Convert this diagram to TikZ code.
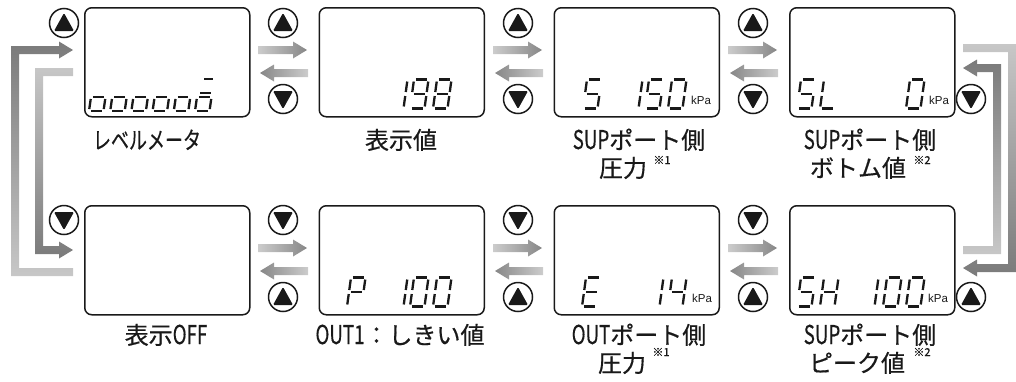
\documentclass[tikz,border=0pt]{standalone}
\usepackage{fontspec}
\usepackage{graphicx}
\setmainfont{Noto Sans CJK JP}
\newfontfamily\lblfont[FakeBold=0.5]{Noto Sans CJK JP}
\newfontfamily\kpafont{Liberation Sans}
\usetikzlibrary{calc}
\definecolor{arrL}{gray}{0.80}
\definecolor{arrD}{gray}{0.53}
\definecolor{loopL}{gray}{0.78}
\definecolor{loopD}{gray}{0.48}
\definecolor{ink}{gray}{0.1}
\newcommand\lat[1]{\scalebox{0.78}[1.08]{#1}}
% seven segment pieces (u,v in cell units)
\newcommand\segXa{\draw[segline] (0.13,1) -- (0.87,1);}
\newcommand\segXb{\draw[segline] (1,0.93) -- (1,0.57);}
\newcommand\segXc{\draw[segline] (1,0.43) -- (1,0.07);}
\newcommand\segXd{\draw[segline] (0.13,0) -- (0.87,0);}
\newcommand\segXe{\draw[segline] (0,0.07) -- (0,0.43);}
\newcommand\segXf{\draw[segline] (0,0.57) -- (0,0.93);}
\newcommand\segXg{\draw[segline] (0.13,0.5) -- (0.87,0.5);}
\newcommand\sevseg[4]{\begin{scope}[shift={(#1,#2)},x={(14.5pt,0pt)},y={(4pt,#3pt)}]\foreach \s in {#4}{\csname segX\s\endcsname}\end{scope}}
\newcommand\rarr[2]{\shade[left color=arrL, right color=arrD] let \p1=(#1), \p2=(#2) in (\x1,\y1+4pt) -- (\x2-14pt,\y1+4pt) -- (\x2-14pt,\y1+8.5pt) -- (\x2,\y1) -- (\x2-14pt,\y1-8.5pt) -- (\x2-14pt,\y1-4pt) -- (\x1,\y1-4pt) -- cycle;}
\newcommand\larr[2]{\shade[left color=arrD, right color=arrL] let \p1=(#1), \p2=(#2) in (\x1,\y1+4pt) -- (\x2+14pt,\y1+4pt) -- (\x2+14pt,\y1+8.5pt) -- (\x2,\y1) -- (\x2+14pt,\y1-8.5pt) -- (\x2+14pt,\y1-4pt) -- (\x1,\y1-4pt) -- cycle;}
\tikzset{
  segline/.style={draw=ink, line width=2.3pt, line cap=butt},
  lcd/.style={draw=ink, line width=1.5pt, rounded corners=7pt, minimum width=165pt, minimum height=109pt, inner sep=0, anchor=north west},
  btn/.style={circle, draw=ink, line width=1.5pt, minimum size=29pt, inner sep=0},
  btnup/.style={btn, path picture={\fill[ink, rounded corners=1.2pt] ([yshift=10pt]path picture bounding box.center) -- ++(-10pt,-18pt) -- ++(20pt,0pt) -- cycle;}},
  btndn/.style={btn, path picture={\fill[ink, rounded corners=1.2pt] ([yshift=-10pt]path picture bounding box.center) -- ++(-10pt,18pt) -- ++(20pt,0pt) -- cycle;}},
  lbl/.style={font=\lblfont\fontsize{24}{28}\selectfont, text=ink, inner sep=0, text height=20pt, text depth=2pt},
  note/.style={font=\lblfont\fontsize{11}{12}\selectfont, text=ink, inner sep=0},
  kpa/.style={font=\kpafont\fontsize{11.5}{12}\selectfont, text=ink, inner sep=0, anchor=base west},
}
\begin{document}
\begin{tikzpicture}[x=1pt,y=-1pt]
\useasboundingbox (0,0) rectangle (1016,381);
% boxes
\node[lcd] (b1) at (84,7) {};
\node[lcd] (b2) at (318.5,7) {};
\node[lcd] (b3) at (553.5,7) {};
\node[lcd] (b4) at (789,7) {};
\node[lcd] (b5) at (84,205) {};
\node[lcd] (b6) at (318.5,205) {};
\node[lcd] (b7) at (553.5,205) {};
\node[lcd] (b8) at (789,205) {};
% buttons
\node[btnup] (u0) at (64,23) {};
\node[btnup] (u1) at (283,23) {};
\node[btndn] (d1) at (283,99) {};
\node[btnup] (u2) at (518,23) {};
\node[btndn] (d2) at (518,99) {};
\node[btnup] (u3) at (753,23) {};
\node[btndn] (d3) at (753,99) {};
\node[btndn] (d4) at (971,99) {};
\node[btndn] (d5) at (64,220) {};
\node[btndn] (d6) at (283,220) {};
\node[btnup] (u6) at (283,297) {};
\node[btndn] (d7) at (518,220) {};
\node[btnup] (u7) at (518,297) {};
\node[btndn] (d8) at (753,220) {};
\node[btnup] (u8) at (753,297) {};
\node[btnup] (u9) at (971,297) {};
% horizontal arrows
\foreach \k/\xa in {0/0,1/235,2/470}{
  \coordinate (rt\k) at (258+\xa,50);  \coordinate (rh\k) at (307+\xa,50);
  \coordinate (lt\k) at (308+\xa,73);  \coordinate (lh\k) at (260+\xa,73);
  \coordinate (Rt\k) at (258+\xa,248); \coordinate (Rh\k) at (307+\xa,248);
  \coordinate (Lt\k) at (308+\xa,271); \coordinate (Lh\k) at (260+\xa,271);
  \rarr{rt\k}{rh\k}
  \larr{lt\k}{lh\k}
  \rarr{Rt\k}{Rh\k}
  \larr{Lt\k}{Lh\k}
}
% loop arrows left
\shade[top color=loopD, bottom color=loopL] (73,268) -- (19,268) -- (19,54) -- (59,54) -- (59,58.5) -- (73,50) -- (59,41.5) -- (59,46) -- (11,46) -- (11,276) -- (73,276) -- cycle;
\shade[top color=loopL, bottom color=loopD] (73,68) -- (35,68) -- (35,254) -- (59,254) -- (59,258.5) -- (73,250) -- (59,241.5) -- (59,246) -- (43,246) -- (43,76) -- (73,76) -- cycle;
% loop arrows right
\shade[top color=loopL, bottom color=loopD] (963,44) -- (1016,44) -- (1016,272) -- (977,272) -- (977,276.5) -- (963,268) -- (977,259.5) -- (977,264) -- (1008,264) -- (1008,52) -- (963,52) -- cycle;
\shade[top color=loopD, bottom color=loopL] (963,254) -- (1001,254) -- (1001,64) -- (977,64) -- (977,59.5) -- (963,68) -- (977,76.5) -- (977,72) -- (993,72) -- (993,246) -- (963,246) -- cycle;
% LCD contents
\foreach \i in {0,...,5}{\sevseg{89+21.2*\i}{111}{28}{c,d,e,g}}
\draw[segline] (200,93) -- (211,93);
\draw[segline] (204,79) -- (213,79);
\sevseg{389}{108.5}{29}{b,c}
\sevseg{410}{108.5}{29}{a,b,c,d,f,g}
\sevseg{433}{108.5}{29}{a,b,c,d,e,f,g}
\sevseg{583}{108.5}{29}{a,f,g,c,d}
\sevseg{624}{108.5}{29}{b,c}
\sevseg{645}{108.5}{29}{a,f,g,c,d}
\sevseg{668}{108.5}{29}{a,b,c,d,e,f}
\node[kpa] (k3) at (691,104) {kPa};
\sevseg{797}{108.5}{29}{a,f,g,c,d}
\sevseg{820}{108.5}{29}{d,e,f}
\sevseg{906}{108.5}{29}{a,b,c,d,e,f}
\node[kpa] (k4) at (929,104) {kPa};
\sevseg{347}{306.5}{29}{a,b,e,f,g}
\sevseg{389}{306.5}{29}{b,c}
\sevseg{410}{306.5}{29}{a,b,c,d,e,f}
\sevseg{433}{306.5}{29}{a,b,c,d,e,f}
\sevseg{582}{306.5}{29}{a,d,e,f,g}
\sevseg{645}{306.5}{29}{b,c}
\sevseg{668}{306.5}{29}{b,c,f,g}
\node[kpa] (k7) at (692,302) {kPa};
\sevseg{797}{306.5}{29}{a,f,g,c,d}
\sevseg{820}{306.5}{29}{b,c,e,f,g}
\sevseg{860}{306.5}{29}{b,c}
\sevseg{883}{306.5}{29}{a,b,c,d,e,f}
\sevseg{906}{306.5}{29}{a,b,c,d,e,f}
\node[kpa] (k8) at (928,302) {kPa};
% labels
\node[lbl] (t1) at (147,140) {\scalebox{0.75}[1]{レベルメータ}};
\node[lbl] (t2) at (401,140) {表示値};
\node[lbl] (t3a) at (639,140) {\lat{SUP}ポート側};
\node[lbl] (t3b) at (623,168) {圧力};
\node[note] (s3) at (662,160) {※1};
\node[lbl] (t4a) at (870,140) {\lat{SUP}ポート側};
\node[lbl] (t4b) at (858,168) {ボトム値};
\node[note] (s4) at (922,160) {※2};
\node[lbl] (t5) at (166,335) {表示\lat{OFF}};
\node[lbl] (t6) at (400,335) {\lat{OUT1}：しきい値};
\node[lbl] (t7a) at (639,335) {\lat{OUT}ポート側};
\node[lbl] (t7b) at (622,363) {圧力};
\node[note] (s7) at (661,352) {※1};
\node[lbl] (t8a) at (870,335) {\lat{SUP}ポート側};
\node[lbl] (t8b) at (857,363) {ピーク値};
\node[note] (s8) at (922,352) {※2};
\end{tikzpicture}
\end{document}
